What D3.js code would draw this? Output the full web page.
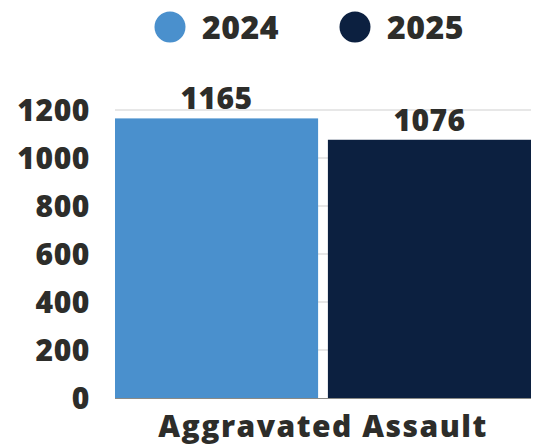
<!DOCTYPE html>
<html><head><meta charset="utf-8">
<script src="https://cdn.jsdelivr.net/npm/d3@7"></script>
<style>body{margin:0;background:#fff}svg{display:block}</style>
</head><body>
<script>
const categories = ["Aggravated Assault"];
const seriesNames = ["2024", "2025"];
const values2024 = [1165];
const values2025 = [1076];
const yTicks = [0, 200, 400, 600, 800, 1000, 1200];
const colors = ["#4a90cd", "#0c2040"];

const W = 534, H = 446;
const margin = {left: 115, right: 3, top: 110, bottom: 48};
const svg = d3.select("body").append("svg").attr("width", W).attr("height", H);
const font = "'Open Sans', sans-serif";
const textColor = "#2d2d2a";

const x0 = d3.scaleBand().domain(categories).range([margin.left, W - margin.right]).padding(0);
const x1 = d3.scaleBand().domain(seriesNames).range([0, x0.bandwidth()]).paddingInner(0.046);
const y = d3.scaleLinear().domain([0, 1200]).range([H - margin.bottom, margin.top]);

// gridlines
svg.append("g").selectAll("line").data(yTicks.filter(d => d > 0)).join("line")
  .attr("x1", margin.left).attr("x2", W - margin.right)
  .attr("y1", d => y(d)).attr("y2", d => y(d))
  .attr("stroke", "#cfcfcf").attr("stroke-width", 1);

// y axis labels
const yAxis = d3.axisLeft(y).tickValues(yTicks).tickFormat(d3.format("d")).tickSize(0).tickPadding(0);
const gy = svg.append("g").attr("transform", `translate(${margin.left - 25},0)`).call(yAxis);
gy.select(".domain").remove();
gy.selectAll("text").attr("font-family", font).attr("font-weight", 800)
  .attr("font-size", 30).attr("letter-spacing", 0.6).attr("fill", textColor).attr("dy", "0.36em");

const data = categories.map((c, i) => ({cat: c, vals: [values2024[i], values2025[i]]}));
const g = svg.append("g").selectAll("g").data(data).join("g")
  .attr("transform", d => `translate(${x0(d.cat)},0)`);
g.selectAll("rect").data(d => d.vals.map((v, j) => ({s: seriesNames[j], v, j}))).join("rect")
  .attr("x", d => x1(d.s)).attr("width", x1.bandwidth())
  .attr("y", d => y(d.v)).attr("height", d => y(0) - y(d.v))
  .attr("fill", d => colors[d.j]);
g.selectAll("text.lbl").data(d => d.vals.map((v, j) => ({s: seriesNames[j], v, j}))).join("text")
  .attr("class", "lbl")
  .attr("x", d => x1(d.s) + x1.bandwidth() / 2).attr("y", d => y(d.v) - 9)
  .attr("text-anchor", "middle").attr("font-family", font).attr("font-weight", 800)
  .attr("font-size", 30).attr("letter-spacing", 0.4).attr("fill", textColor).text(d => d.v);

// baseline
svg.append("line").attr("x1", margin.left).attr("x2", W - margin.right)
  .attr("y1", y(0) + 0.5).attr("y2", y(0) + 0.5).attr("stroke", "#8a8a86").attr("stroke-width", 1);

// x axis label
const xAxis = d3.axisBottom(x0).tickSize(0).tickPadding(0);
const gx = svg.append("g").attr("transform", `translate(0,${y(0) + 28})`).call(xAxis);
gx.select(".domain").remove();
gx.selectAll("text").attr("font-family", font).attr("font-weight", 800)
  .attr("font-size", 30).attr("letter-spacing", 1.5).attr("fill", textColor).attr("dy", "0.36em");

// legend
const legendX = [170, 355];
const lg = svg.append("g").selectAll("g").data(seriesNames).join("g")
  .attr("transform", (d, i) => `translate(${legendX[i]},27)`);
lg.append("circle").attr("r", 15.5).attr("fill", (d, i) => colors[i]);
lg.append("text").attr("x", 32).attr("dy", "0.36em").attr("font-family", font)
  .attr("font-weight", 800).attr("font-size", 32).attr("letter-spacing", 0.5).attr("fill", textColor).text(d => d);
</script>
</body></html>
